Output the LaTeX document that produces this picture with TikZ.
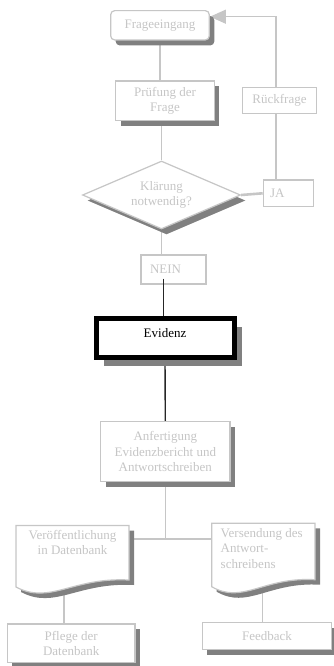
\documentclass[tikz,border=0pt]{standalone}
\usepackage{fontspec}
\setmainfont{Liberation Serif}
\usetikzlibrary{shapes.geometric,shadows,backgrounds,arrows.meta}

\definecolor{palegray}{HTML}{C6C6C6}
\definecolor{shadowgray}{HTML}{808080}

\tikzset{
  boxline/.style={draw=palegray, line width=1.2pt},
  flowbox/.style={boxline, fill=white, rectangle, inner sep=2pt, align=center,
    text=palegray, font=\fontsize{13}{15.5}\selectfont},
  dropshadow/.style={general shadow={fill=shadowgray, shadow xshift=5pt, shadow yshift=-5.5pt}},
  paleline/.style={draw=palegray, line width=1.2pt},
  darkline/.style={draw=black!85, line width=1.4pt},
  doctext/.style={inner sep=2pt, text=palegray, font=\fontsize{13}{15.5}\selectfont}
}

% document sheet with a wavy lower edge: left, top, right, bottom
\newcommand{\docsheet}[4]{%
  \fill[shadowgray] ({#1+5},{#2+5}) -- ({#3+5},{#2+5}) -- ({#3+5},{#4-2})
    .. controls ({#1+0.5*(#3-#1)+5},{#4-5}) and ({#1+0.3*(#3-#1)+5},{#4+23}) .. ({#1+5},{#4+5}) -- cycle;
  \draw[boxline, fill=white] (#1,#2) -- (#3,#2) -- (#3,{#4-7})
    .. controls ({#1+0.5*(#3-#1)},{#4-10}) and ({#1+0.3*(#3-#1)},{#4+18}) .. (#1,#4) -- cycle;
}

\begin{document}
\begin{tikzpicture}[x=1pt, y=-1pt]
\useasboundingbox (0,0) rectangle (333,666);

% process boxes
\node[flowbox, dropshadow, rounded corners=4pt, minimum width=98.6pt, minimum height=29.3pt]
  (frage) at (160,25.3) {Frageeingang};
\node[flowbox, dropshadow, minimum width=98.6pt, minimum height=39.7pt]
  (pruef) at (165,100.8) {Prüfung der\\Frage};
\node[flowbox, dropshadow, diamond, aspect=2.3, inner sep=0pt, minimum width=158pt, minimum height=68pt]
  (dia) at (161.5,195) {Klärung\\notwendig?};
\node[flowbox, minimum width=74.4pt, minimum height=25.6pt]
  (rueck) at (279.5,100.5) {Rückfrage};
\node[flowbox, minimum width=50pt, minimum height=26.7pt, inner xsep=6.7pt, text width=36.6pt, align=left]
  (ja) at (288.3,193.3) {JA};
\node[flowbox, minimum width=65pt, minimum height=29pt, inner xsep=9pt, text width=47pt, align=left]
  (nein) at (173.5,269.5) {NEIN};
\node[flowbox, draw=black, line width=5pt, text=black, minimum width=138pt, minimum height=39pt,
  text height=9pt, text depth=11pt,
  general shadow={fill=shadowgray, shadow xshift=7.5pt, shadow yshift=-8pt}]
  (evid) at (165,338) {Evidenz};
\node[flowbox, dropshadow, minimum width=129.3pt, minimum height=60pt]
  (anf) at (165.3,451.7) {Anfertigung\\Evidenzbericht und\\Antwortschreiben};
\node[flowbox, dropshadow, minimum width=127.7pt, minimum height=38.7pt]
  (pflege) at (71.2,643.3) {Pflege der\\Datenbank};
\node[flowbox, dropshadow, minimum width=129.4pt, minimum height=26.7pt]
  (feed) at (267,636) {Feedback};

% document sheets
\docsheet{16}{525.5}{129}{587}
\docsheet{211.7}{523.3}{315}{586.7}
\node[doctext, anchor=north, align=center] (ldoc) at (72.5,528) {Veröffentlichung\\in Datenbank};
\node[doctext, anchor=north west, align=left] (rdoc) at (218.5,526) {Versendung des\\Antwort-\\schreibens};
\coordinate (ldocb) at (64,591);
\coordinate (rdocb) at (262.3,589);
\coordinate (junc) at (165.7,539);
\coordinate (lx) at (276,0);

% connectors
\begin{pgfonlayer}{background}
  \draw[paleline] (frage.south) -- (frage.south |- pruef.north);
  \draw[paleline] (dia.north |- pruef.south) -- (dia.north);
  \draw[paleline] (dia.south) -- (dia.south |- nein.north);
  \draw[paleline, line width=2.6pt] (dia.east) -- (ja.west);
  \draw[paleline] (lx |- ja.north) -- (lx |- rueck.south);
  \draw[paleline, -{Triangle[length=16pt, width=14pt, fill=palegray]}]
    (lx |- rueck.north) |- ([yshift=8.6pt]frage.east);
  \draw[darkline] (evid.south) -- (anf.north);
  \draw[paleline] (anf.south -| junc) -- (junc);
  \draw[paleline] (junc -| 128.3,0) -- (junc -| 212,0);
  \draw[paleline] (ldocb) -- (ldocb |- pflege.north);
  \draw[paleline] (rdocb) -- (rdocb |- feed.north);
\end{pgfonlayer}
\draw[darkline] ([xshift=-1.3pt, yshift=6pt]nein.south -| evid.north) -- ([xshift=-1.3pt]evid.north);
\end{tikzpicture}
\end{document}
